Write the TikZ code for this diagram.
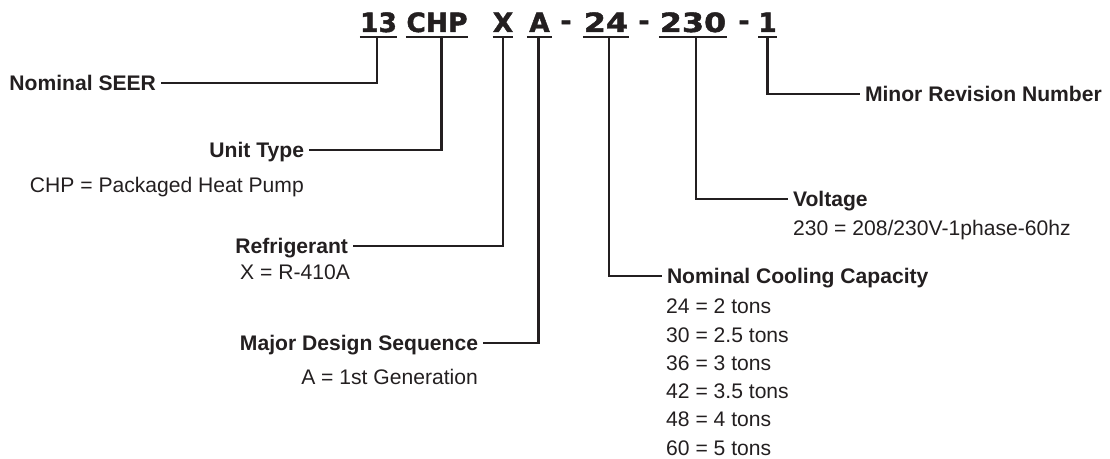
\documentclass[tikz,border=0pt]{standalone}
\usepackage{fontspec}
\setmainfont{Liberation Sans}
\newfontfamily\codefam{DejaVu Sans}[BoldFeatures={FakeBold=1.6}]
\definecolor{ink}{HTML}{231F20}
\begin{document}
\begin{tikzpicture}[x=1bp,y=-1bp,
  code/.style={font=\codefam\bfseries\fontsize{26.5bp}{26bp}\selectfont, inner sep=0pt, text height=19bp, text depth=5bp, anchor=base, text=ink},
  uline/.style={draw=ink, line width=2.4bp},
  conn/.style={draw=ink, line width=2.2bp},
  lab/.style={font=\bfseries\fontsize{21.1bp}{25bp}\selectfont, inner sep=0pt, outer xsep=5bp, text height=15bp, text depth=0pt, text=ink},
  desc/.style={font=\fontsize{21.1bp}{25bp}\selectfont, inner sep=0pt, text=ink}]
\useasboundingbox (0,0) rectangle (1110,459);

% code segments
\node[code, minimum width=37bp] (c13) at (378.5,32) {13};
\node[code, minimum width=62bp] (cCHP) at (437,32) {CHP};
\node[code, minimum width=20bp] (cX) at (503,32) {X};
\node[code, minimum width=25bp] (cA) at (539.5,32) {A};
\node[code, text depth=0pt] (d1) at (566,30) {-};
\node[code, minimum width=46bp] (c24) at (606,32) {\scalebox{1.2}[1]{24}};
\node[code, text depth=0pt] (d2) at (644,30) {-};
\node[code, minimum width=68bp] (c230) at (693,32) {\scalebox{1.2}[1]{230}};
\node[code, text depth=0pt] (d3) at (744,30) {-};
\node[code, minimum width=13bp] (c1) at (767.5,32) {1};

\foreach \n in {c13,cCHP,cX,cA,c24,c230,c1}
  \draw[uline] (\n.south west) -- (\n.south east);

% labels
\node[lab, anchor=east] (seer) at (161,83) {Nominal SEER};
\node[lab, anchor=east] (unit) at (309,150) {Unit Type};
\node[lab, anchor=east] (refr) at (353,246) {Refrigerant};
\node[lab, anchor=east] (major) at (483,343) {Major Design Sequence};
\node[lab, anchor=west] (cool) at (662,276) {Nominal Cooling Capacity};
\node[lab, anchor=west] (volt) at (788,199) {Voltage};
\node[lab, anchor=west] (minor) at (860,94) {Minor Revision Number};

% descriptions
\node[desc, anchor=base east] (chpd) at (304,193) {CHP = Packaged Heat Pump};
\node[desc, anchor=base west] (xd) at (240,280) {X = R-410A};
\node[desc, anchor=base east] (ad) at (478,385) {A = 1st Generation};
\node[desc, anchor=base west] (vd) at (793,236) {230 = 208/230V-1phase-60hz};
\foreach \t [count=\i] in {24 = 2 tons, 30 = 2.5 tons, 36 = 3 tons, 42 = 3.5 tons, 48 = 4 tons, 60 = 5 tons}
  \node[desc, anchor=base west] (cl\i) at (666,{314+28.2*(\i-1)}) {\t};

% connectors
\draw[conn] ([xshift=-1.5bp]c13.south) |- (seer.east);
\draw[conn] ([xshift=4.5bp]cCHP.south) |- (unit.east);
\draw[conn] (cX.south) |- (refr.east);
\draw[conn] ([xshift=-1bp]cA.south) |- (major.east);
\draw[conn] ([xshift=3bp]c24.south) |- (cool.west);
\draw[conn] ([xshift=3bp]c230.south) |- (volt.west);
\draw[conn] (c1.south) |- (minor.west);
\end{tikzpicture}
\end{document}
